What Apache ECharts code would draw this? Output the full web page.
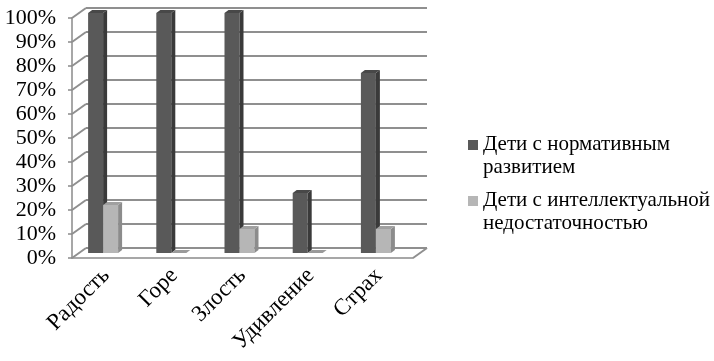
<!DOCTYPE html>
<html>
<head>
<meta charset="utf-8">
<script src="https://cdn.jsdelivr.net/npm/echarts@6/dist/echarts.min.js"></script>
<style>html,body{margin:0;padding:0;background:#fff;}#c{width:714px;height:361px;}</style>
</head>
<body>
<div id="c"></div>
<script>
var categories = ['Радость', 'Горе', 'Злость', 'Удивление', 'Страх'];
var seriesNames = ['Дети с нормативным\nразвитием', 'Дети с интеллектуальной\nнедостаточностью'];
var normalValues = [100, 100, 100, 25, 75];
var intellectValues = [20, 0, 10, 0, 10];
var yTicks = [0, 10, 20, 30, 40, 50, 60, 70, 80, 90, 100];

var FONT = '"Liberation Serif", "Times New Roman", serif';
var DX = 14, DY = -10;           // depth offset to back wall
var MX = 7, MY = -5;             // bar mid-depth offset
var colors = [
  {front: '#595959', side: '#3a3a3a', top: '#484848'},
  {front: '#b6b6b6', side: '#8c8c8c', top: '#a0a0a0'}
];
var barOffsets = [-25, -10];
var barW = 15, sideW = 4, sideH = 3;

function barItem(si) {
  return function (params, api) {
    var idx = api.value(0), val = api.value(1);
    var c = colors[si];
    var base = api.coord([idx, 0]);
    var top = api.coord([idx, val]);
    var x = base[0] + MX + barOffsets[si];
    var yb = base[1] + MY;
    var yt = top[1] + MY;
    var children = [];
    if (val > 0) {
      children.push({type: 'rect', shape: {x: x, y: yt, width: barW, height: yb - yt}, style: {fill: c.front}});
      children.push({type: 'polygon', shape: {points: [[x + barW, yt], [x + barW + sideW, yt - sideH], [x + barW + sideW, yb - sideH], [x + barW, yb]]}, style: {fill: c.side}});
    }
    children.push({type: 'polygon', shape: {points: [[x, yt], [x + barW, yt], [x + barW + sideW, yt - sideH], [x + sideW, yt - sideH]]}, style: {fill: val > 0 ? c.top : '#9a9a9a'}});
    return {type: 'group', children: children};
  };
}

var chart = echarts.init(document.getElementById('c'), null, {renderer: 'canvas'});
chart.setOption({
  backgroundColor: '#fff',
  animation: false,
  grid: [
    {left: 72, top: 18, width: 341, height: 240},
    {left: 72 + DX, top: 18 + DY, width: 341, height: 240}
  ],
  xAxis: [
    {type: 'category', gridIndex: 0, data: categories,
     axisLine: {lineStyle: {color: '#8a8a8a', width: 1.5}},
     axisTick: {length: 5, lineStyle: {color: '#8a8a8a', width: 1.5}},
     axisLabel: {rotate: 45, margin: 14, fontFamily: FONT, fontSize: 23, color: '#000', interval: 0}},
    {type: 'category', gridIndex: 1, data: categories, show: false}
  ],
  yAxis: [
    {type: 'value', gridIndex: 0, min: 0, max: 100, interval: 10,
     axisLine: {show: true, lineStyle: {color: '#8a8a8a', width: 1.5}},
     axisTick: {show: true, length: 4, lineStyle: {color: '#8a8a8a', width: 1.5}},
     splitLine: {show: false},
     axisLabel: {formatter: '{value}%', fontFamily: FONT, fontSize: 22, color: '#000', margin: 16}},
    {type: 'value', gridIndex: 1, min: 0, max: 100, interval: 10,
     axisLine: {show: false}, axisTick: {show: false}, axisLabel: {show: false},
     splitLine: {show: true, lineStyle: {color: '#8f8f8f', width: 2}}}
  ],
  series: [
    {
      type: 'custom', xAxisIndex: 0, yAxisIndex: 0, z: 1, silent: true,
      data: yTicks.map(function (t) { return [0, t]; }),
      renderItem: function (params, api) {
        var cs = params.coordSys;
        var p = api.coord([0, api.value(1)]);
        var children = [{type: 'line', shape: {x1: cs.x, y1: p[1], x2: cs.x + DX, y2: p[1] + DY}, style: {stroke: '#8f8f8f', lineWidth: 2}}];
        if (api.value(1) === 0) {
          children.push({type: 'line', shape: {x1: cs.x + cs.width, y1: p[1], x2: cs.x + cs.width + DX, y2: p[1] + DY}, style: {stroke: '#8f8f8f', lineWidth: 2}});
        }
        return {type: 'group', children: children};
      }
    },
    {
      name: seriesNames[0], type: 'custom', xAxisIndex: 0, yAxisIndex: 0, z: 3,
      data: normalValues.map(function (v, i) { return [i, v]; }),
      renderItem: barItem(0)
    },
    {
      name: seriesNames[1], type: 'custom', xAxisIndex: 0, yAxisIndex: 0, z: 3,
      data: intellectValues.map(function (v, i) { return [i, v]; }),
      renderItem: barItem(1)
    }
  ],
  graphic: [
    {type: 'rect', left: 468, top: 140, shape: {width: 10, height: 10}, style: {fill: colors[0].front}},
    {type: 'text', left: 483, top: 133, style: {text: seriesNames[0], font: '21px ' + FONT, fill: '#000', lineHeight: 23}},
    {type: 'rect', left: 468, top: 196, shape: {width: 10, height: 10}, style: {fill: colors[1].front}},
    {type: 'text', left: 483, top: 189, style: {text: seriesNames[1], font: '21px ' + FONT, fill: '#000', lineHeight: 23}}
  ]
});
</script>
</body>
</html>
